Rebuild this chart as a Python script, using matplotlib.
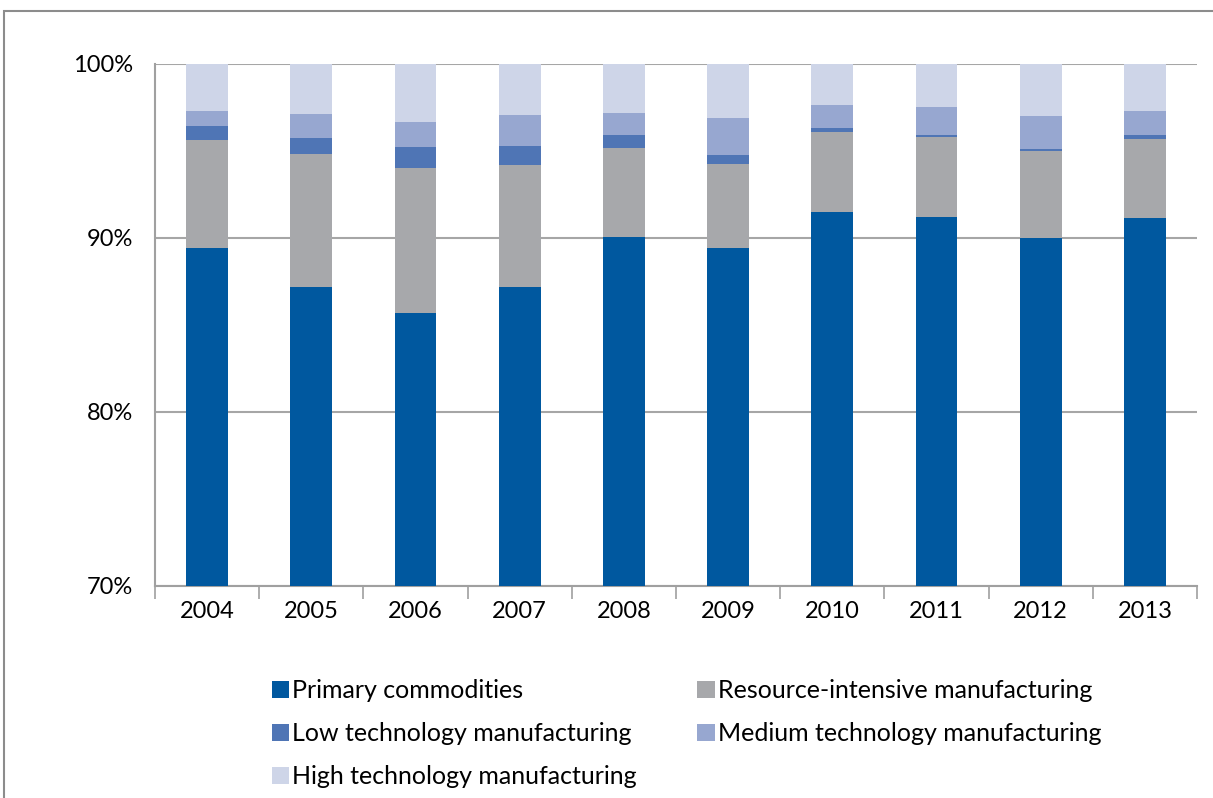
import numpy as np
import matplotlib.pyplot as plt
from matplotlib.patches import Rectangle

plt.rcParams['font.family'] = ['Lato', 'DejaVu Sans']
plt.rcParams['font.size'] = 17

years = ['2004', '2005', '2006', '2007', '2008', '2009', '2010', '2011', '2012', '2013']
primary = [89.45, 87.18, 85.71, 87.20, 90.07, 89.43, 91.51, 91.23, 90.02, 91.17]
resource = [6.20, 7.67, 8.29, 7.01, 5.13, 4.84, 4.58, 4.60, 5.00, 4.54]
low_tech = [0.79, 0.91, 1.23, 1.09, 0.72, 0.52, 0.21, 0.07, 0.09, 0.23]
medium_tech = [0.86, 1.39, 1.46, 1.75, 1.26, 2.08, 1.34, 1.65, 1.92, 1.38]
high_tech = [2.70, 2.85, 3.31, 2.95, 2.82, 3.13, 2.36, 2.45, 2.97, 2.68]

labels = ['Primary commodities', 'Resource-intensive manufacturing',
          'Low technology manufacturing', 'Medium technology manufacturing',
          'High technology manufacturing']
colors = ['#00589f', '#a7a8ab', '#4f75b5', '#97a7d0', '#ced5e8']

fig = plt.figure(figsize=(12.13, 7.98), dpi=100)
ax = fig.add_axes([0.1278, 0.2657, 0.859, 0.6541])

x = np.arange(len(years))
bottom = np.zeros(len(years))
bars = []
for vals, lab, col in zip([primary, resource, low_tech, medium_tech, high_tech], labels, colors):
    b = ax.bar(x, vals, 0.4, bottom=bottom, color=col, label=lab, zorder=3)
    bars.append(b)
    bottom += np.array(vals)

ax.set_ylim(70, 100)
ax.set_xlim(-0.5, len(years) - 0.5)
ax.set_yticks([70, 80, 90, 100])
ax.set_yticklabels(['70%', '80%', '90%', '100%'])
ax.set_xticks(x)
ax.set_xticklabels(years)
ax.set_xticks(np.arange(-0.5, len(years)), minor=True)
ax.tick_params(axis='x', which='major', length=0, pad=11)
ax.tick_params(axis='x', which='minor', length=9, color='#a0a0a0', width=1.2)
ax.tick_params(axis='y', length=0, pad=16)
ax.grid(axis='y', color='#a6a6a6', linewidth=1.5, zorder=0)

for s in ['top', 'right']:
    ax.spines[s].set_visible(False)
for s in ['left', 'bottom']:
    ax.spines[s].set_color('#a0a0a0')
    ax.spines[s].set_linewidth(1.5)

# outer chart frame
fig.patches.append(Rectangle((4 / 1213, -0.05), 1.1, 1 - 11 / 798 + 0.05,
                             transform=fig.transFigure, fill=False,
                             edgecolor='#8c8c8c', linewidth=1.5))

order = [0, 2, 4, 1, 3]
fig.legend([bars[i] for i in order], [labels[i] for i in order], ncol=2,
           loc='upper left', bbox_to_anchor=(0.2242, 0.149), frameon=False,
           borderpad=0, borderaxespad=0,
           handlelength=0.7, handleheight=0.7, handletextpad=0.12,
           columnspacing=2.4, labelspacing=0.8, fontsize=18)

fig.savefig('out.png', dpi=100)
